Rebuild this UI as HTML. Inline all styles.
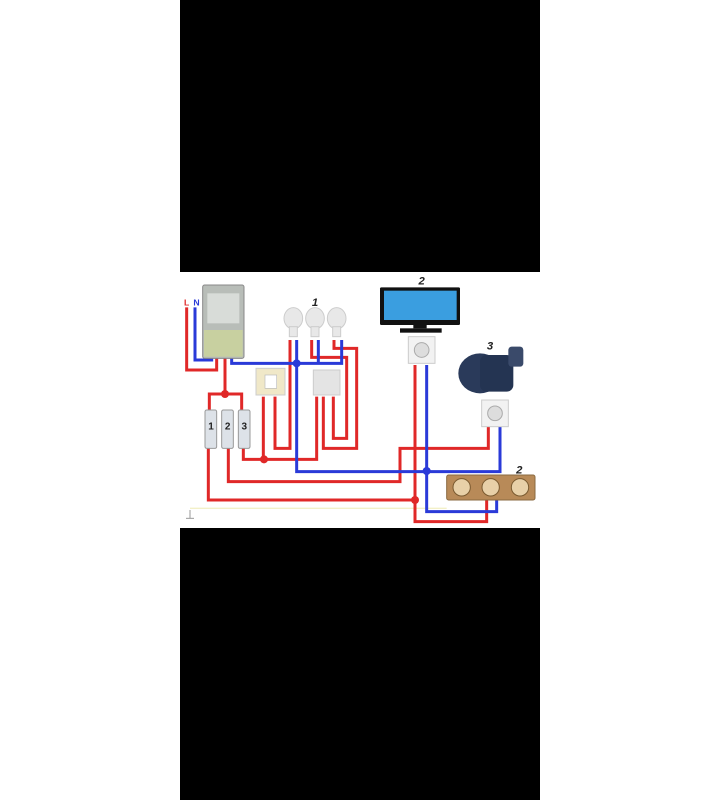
<!DOCTYPE html>
<html><head><style>
html,body{margin:0;padding:0;background:#fff;width:720px;height:800px;overflow:hidden;position:relative}
.blk{position:absolute;left:180px;width:360px;background:#000}
svg{position:absolute;left:180px;top:270px}
</style></head><body>
<div class="blk" style="top:0;height:272px"></div>
<div class="blk" style="top:528px;height:272px"></div>
<svg width="360" height="260" viewBox="0 0 1080 780">
<rect x="0" y="6" width="1080" height="768" fill="#fff"/>
<g fill="none" stroke-width="9" stroke-linejoin="miter">
<!-- ground -->
<line x1="30" y1="715" x2="800" y2="715" stroke="#f3f0c8" stroke-width="4"/>
<!-- red -->
<g stroke="#e02828">
<polyline points="20,112 20,300 110,300 110,255"/>
<polyline points="135,255 135,372"/>
<polyline points="88,425 88,372 185,372 185,425"/>
<polyline points="190,535 190,568 410,568 410,380"/>
<polyline points="250,380 250,568"/>
<polyline points="285,380 285,535 330,535 330,210"/>
<polyline points="395,210 395,262 500,262 500,505 460,505 460,380"/>
<polyline points="462,210 462,235 530,235 530,535 430,535 430,380"/>
<polyline points="145,535 145,635 660,635 660,535 925,535 925,470"/>
<polyline points="85,535 85,690 705,690"/>
<polyline points="705,285 705,755 920,755 920,690"/>
</g>
<!-- blue -->
<g stroke="#2a3ad8">
<polyline points="45,112 45,270 95,270 95,255"/>
<polyline points="155,255 155,280 485,280 485,210"/>
<polyline points="350,210 350,605 960,605 960,470"/>
<polyline points="415,210 415,280"/>
<polyline points="740,285 740,725 950,725 950,690"/>
</g>
</g>
<circle cx="135" cy="372" r="12" fill="#e02828"/>
<circle cx="252" cy="568" r="12" fill="#e02828"/>
<circle cx="705" cy="690" r="12" fill="#e02828"/>
<circle cx="350" cy="280" r="12" fill="#2a3ad8"/>
<circle cx="740" cy="603" r="12" fill="#2a3ad8"/>
<!-- meter -->
<rect x="68" y="45" width="124" height="220" rx="6" fill="#b8bdb8" stroke="#888" stroke-width="3"/>
<rect x="82" y="70" width="96" height="90" fill="#d8dcd8"/>
<rect x="72" y="180" width="116" height="80" fill="#c8d0a0"/>
<!-- bulbs -->
<g fill="#e8e8e8" stroke="#ccc" stroke-width="3">
<ellipse cx="340" cy="145" rx="28" ry="32"/><rect x="328" y="170" width="24" height="30"/>
<ellipse cx="405" cy="145" rx="28" ry="32"/><rect x="393" y="170" width="24" height="30"/>
<ellipse cx="470" cy="145" rx="28" ry="32"/><rect x="458" y="170" width="24" height="30"/>
</g>
<!-- switch & box -->
<rect x="228" y="295" width="87" height="80" fill="#f0e8c8" stroke="#ccc" stroke-width="3"/>
<rect x="255" y="315" width="35" height="40" fill="#fff" stroke="#bbb" stroke-width="2"/>
<rect x="400" y="300" width="80" height="75" fill="#e4e4e4" stroke="#ccc" stroke-width="3"/>
<!-- breakers -->
<g fill="#dde2e8" stroke="#999" stroke-width="3">
<rect x="75" y="420" width="35" height="115" rx="5"/>
<rect x="125" y="420" width="35" height="115" rx="5"/>
<rect x="175" y="420" width="35" height="115" rx="5"/>
</g>
<g font-family="Liberation Sans,sans-serif" font-weight="bold" font-size="30" fill="#222" text-anchor="middle">
<text x="93" y="478">1</text><text x="143" y="478">2</text><text x="193" y="478">3</text>
</g>
<!-- TV -->
<rect x="600" y="52" width="240" height="113" rx="4" fill="#111"/>
<rect x="612" y="62" width="218" height="88" fill="#3a9ee0"/>
<rect x="700" y="165" width="40" height="10" fill="#111"/>
<rect x="660" y="175" width="125" height="13" fill="#111"/>
<!-- sockets -->
<rect x="685" y="200" width="80" height="80" fill="#f2f2f2" stroke="#ccc" stroke-width="3"/>
<circle cx="725" cy="240" r="22" fill="#ddd" stroke="#aaa" stroke-width="3"/>
<rect x="905" y="390" width="80" height="80" fill="#f2f2f2" stroke="#ccc" stroke-width="3"/>
<circle cx="945" cy="430" r="22" fill="#ddd" stroke="#aaa" stroke-width="3"/>
<!-- motor -->
<ellipse cx="900" cy="310" rx="65" ry="60" fill="#2a3a5a"/>
<rect x="900" y="255" width="100" height="110" rx="20" fill="#243452"/>
<rect x="985" y="230" width="45" height="60" rx="10" fill="#3a4a6a"/>
<!-- triple socket -->
<rect x="800" y="615" width="265" height="75" rx="6" fill="#b88a58" stroke="#8a6a40" stroke-width="3"/>
<g fill="#e8d0a8" stroke="#7a5a30" stroke-width="3">
<circle cx="845" cy="652" r="26"/><circle cx="932" cy="652" r="26"/><circle cx="1020" cy="652" r="26"/>
</g>
<g font-family="Liberation Sans,sans-serif" font-weight="bold" font-style="italic" font-size="34" fill="#222" text-anchor="middle">
<text x="405" y="108">1</text><text x="725" y="44">2</text><text x="930" y="238">3</text><text x="1018" y="610">2</text>
</g>
<text x="12" y="106" font-family="Liberation Sans,sans-serif" font-weight="bold" font-size="26" fill="#e02828">L</text>
<text x="40" y="106" font-family="Liberation Sans,sans-serif" font-weight="bold" font-size="26" fill="#2a3ad8">N</text>
<line x1="30" y1="720" x2="30" y2="745" stroke="#999" stroke-width="3"/>
<line x1="18" y1="745" x2="42" y2="745" stroke="#999" stroke-width="3"/>
</svg>
</body></html>
